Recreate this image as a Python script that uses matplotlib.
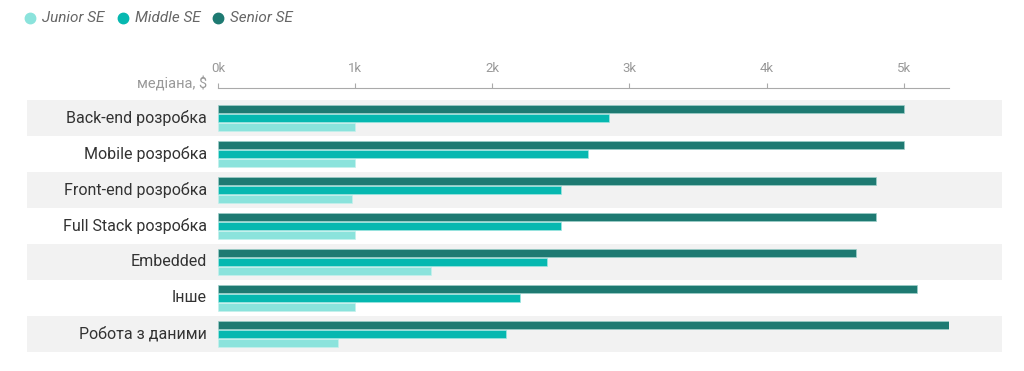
import matplotlib.pyplot as plt

plt.rcParams['font.family'] = ['Roboto', 'DejaVu Sans']

categories = ["Back-end розробка", "Mobile розробка", "Front-end розробка",
              "Full Stack розробка", "Embedded", "Інше", "Робота з даними"]
senior = [5000, 5000, 4800, 4800, 4650, 5100, 5330]
middle = [2850, 2700, 2500, 2500, 2400, 2200, 2100]
junior = [1000, 1000, 980, 1000, 1550, 1000, 875]
series_names = ["Junior SE", "Middle SE", "Senior SE"]
ticks = [0, 1000, 2000, 3000, 4000, 5000]
tick_labels = ["0k", "1k", "2k", "3k", "4k", "5k"]

c_junior = "#8be3dc"
c_middle = "#06b8b0"
c_senior = "#1e7a72"

W, H = 1024, 371
fig = plt.figure(figsize=(W / 100, H / 100), dpi=100)
ax = fig.add_axes([218 / W, (H - 352) / H, 731 / W, 252 / H])

xmax = max(senior + middle + junior)
ax.set_xlim(0, xmax)
ax.set_ylim(len(categories) - 0.5, -0.5)

# row bands
for i in range(len(categories)):
    if i % 2 == 0:
        p = ax.axhspan(i - 0.5, i + 0.5, xmin=(27 - 218) / 731, xmax=(1002 - 218) / 731,
                       color="#f2f2f2", zorder=0, lw=0)
        p.set_clip_on(False)

h = 0.24
for i in range(len(categories)):
    ax.barh(i - 0.25, senior[i], height=h, color=c_senior, edgecolor="#9fcfca", lw=0.5, zorder=2)
    ax.barh(i, middle[i], height=h, color=c_middle, edgecolor="#9fe6e1", lw=0.5, zorder=2)
    ax.barh(i + 0.25, junior[i], height=h, color=c_junior, edgecolor="#c5f0ec", lw=0.5, zorder=2)

ax.set_yticks(range(len(categories)))
ax.set_yticklabels(categories, fontsize=11.5, color="#333333", va="center")
ax.tick_params(axis="y", length=0, pad=8)

for s in ["left", "right", "bottom"]:
    ax.spines[s].set_visible(False)
ax.spines["top"].set_position(("outward", 8.5))
ax.spines["top"].set_bounds(0, xmax)
ax.spines["top"].set_color("#aaaaaa")
ax.xaxis.tick_top()
ax.set_xticks(ticks)
ax.set_xticklabels(tick_labels, fontsize=9.5, color="#999999")
ax.tick_params(axis="x", length=3.5, color="#aaaaaa", pad=6, direction="out")

fig.text(207 / W, 1 - 84 / H, "медіана, $", ha="right", va="center", fontsize=10.5, color="#999999")

# legend drawn by hand, top left
leg_x = [30, 123, 218]
for name, c, x in zip(series_names, (c_junior, c_middle, c_senior), leg_x):
    fig.lines.append(plt.Line2D([x / W], [1 - 18 / H], marker="o", markersize=7.5, color=c,
                                ls="", transform=fig.transFigure))
    fig.text((x + 12) / W, 1 - 18 / H, name, ha="left", va="center", fontsize=11,
             style="italic", color="#666666")

fig.savefig("out.png", dpi=100)
